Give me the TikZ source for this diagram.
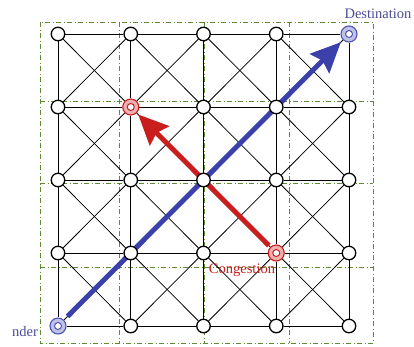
\documentclass[tikz,border=0pt]{standalone}
\usepackage{fontspec}
\setmainfont{Liberation Serif}
\usetikzlibrary{arrows.meta,backgrounds}
\definecolor{cguide}{HTML}{5F8A32}
\definecolor{cblue}{HTML}{3C40AA}
\definecolor{cblueL}{HTML}{4C54B4}
\definecolor{cred}{HTML}{C81E1E}
\definecolor{clab}{HTML}{4C4C96}
\tikzset{
  gnode/.style={circle, draw=black, fill=white, line width=1.3pt,
                minimum size=13.5pt, inner sep=0pt},
  ring/.style={circle, fill=#1!35, draw=#1, line width=1.1pt,
               minimum size=16pt, inner sep=0pt,
               path picture={\draw[#1, fill=white, line width=1pt]
                 (path picture bounding box.center) circle (3.5pt);}},
  % special places in the grid
  s04/.style={ring=cblueL},
  s40/.style={ring=cblueL},
  s11/.style={ring=cred},
  s33/.style={ring=cred},
  link/.style={draw=black, line width=0.8pt},
  guide/.style={draw=cguide, line width=1pt,
                dash pattern=on 5pt off 2.5pt on 1pt off 2.5pt},
  lab/.style={inner sep=0pt, anchor=base, font=\fontsize{14.5}{16}\selectfont},
  flowb/.style={-{Stealth[length=30pt, width=27pt, inset=4pt]}, draw=cblue,
                fill=cblue, line width=5pt},
  flowr/.style={-{Stealth[length=30pt, width=27pt, inset=4pt]}, draw=cred,
                fill=cred, line width=5pt},
}
\begin{document}
\begin{tikzpicture}[x=1pt, y=-1pt]
  \useasboundingbox (0,0) rectangle (414,346);
  % nodes
  \foreach \i in {0,...,4}
    \foreach \j in {0,...,4}
      \node[gnode, s\i\j/.try] (n\i\j) at ({58+72.75*\i},{34+73*\j}) {};
  \begin{pgfonlayer}{background}
    % guide grid
    \draw[guide] (40,22) rectangle (373,343);
    \foreach \x in {119,204,289}
      \draw[guide] (\x,22) -- (\x,343);
    \foreach \y in {101,183,267}
      \draw[guide] (40,\y) -- (373,\y);
    % links
    \foreach \a in {0,...,4}
      \foreach \b/\c in {0/1,1/2,2/3,3/4} {
        \draw[link] (n\a\b) -- (n\a\c);
        \draw[link] (n\b\a) -- (n\c\a);
      }
    \foreach \a/\p in {0/1,1/2,2/3,3/4}
      \foreach \b/\q in {0/1,1/2,2/3,3/4} {
        \draw[link] (n\a\b) -- (n\p\q);
        \draw[link] (n\p\b) -- (n\a\q);
      }
    % routes
    \draw[flowb, shorten <=5pt, shorten >=3pt] (n04) -- (n40);
    \draw[flowr, shorten <=2pt, shorten >=2pt] (n33) -- (n11);
  \end{pgfonlayer}
  % labels
  \node[lab, text=clab] (ldest) at (378,18) {Destination};
  \node[lab, text=clab] (lsend) at (25,336) {nder};
  \node[lab, text=cred] (lcong) at (242,273) {Congestion};
\end{tikzpicture}
\end{document}
